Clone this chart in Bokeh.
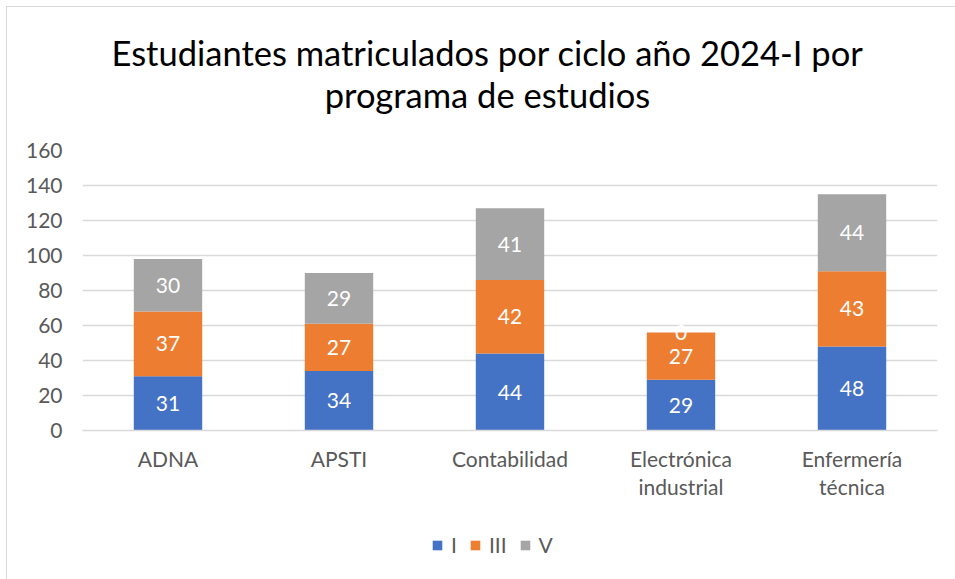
from bokeh.plotting import figure
from bokeh.layouts import column
from bokeh.models import (ColumnDataSource, FactorRange, Range1d, LabelSet, Label,
                          Legend, LegendItem, SingleIntervalTicker)
from bokeh.core.properties import value
from bokeh.embed import file_html
from bokeh.resources import INLINE

categories = ["ADNA", "APSTI", "Contabilidad", "Electrónica\nindustrial", "Enfermería\ntécnica"]
series_names = ["I", "III", "V"]
ciclo_I = [31, 34, 44, 29, 48]
ciclo_III = [37, 27, 42, 27, 43]
ciclo_V = [30, 29, 41, 0, 44]
colors = ["#4472C4", "#ED7D31", "#A5A5A5"]
title_lines = ["Estudiantes matriculados por ciclo año 2024-I por", "programa de estudios"]

FONT = "Lato"
TXT = "#595959"
W = 949


def bare(fig):
    fig.axis.visible = False
    fig.grid.visible = False
    fig.outline_line_color = None
    return fig


src = ColumnDataSource({"cat": categories, "I": ciclo_I, "III": ciclo_III, "V": ciclo_V})

# ---- title strip (frame aligned with the chart frame: starts 75px from the left) ----
t = bare(figure(width=W, height=131, x_range=Range1d(0, 1), y_range=Range1d(0, 1),
                output_backend="svg", toolbar_location=None,
                min_border_left=75, min_border_right=19, min_border_top=0, min_border_bottom=0))
for i, line in enumerate(title_lines):
    t.add_layout(Label(x=405, y=86 - 42 * i, x_units="screen", y_units="screen", text=line,
                       text_align="center", text_baseline="middle", text_font=FONT,
                       text_font_size="34.5px", text_color="black"))

# ---- main chart ----
p = figure(x_range=FactorRange(*categories), y_range=Range1d(0, 160),
           width=W, height=370, output_backend="svg", toolbar_location=None,
           min_border_left=75, min_border_right=19, min_border_top=12, min_border_bottom=78)
p.outline_line_color = None

p.vbar_stack(series_names, x="cat", width=0.4, color=colors, source=src, line_color=None)

bottoms = [0] * len(categories)
for name, vals in zip(series_names, [ciclo_I, ciclo_III, ciclo_V]):
    mids = [b + v / 2 for b, v in zip(bottoms, vals)]
    bottoms = [b + v for b, v in zip(bottoms, vals)]
    ls_src = ColumnDataSource({"cat": categories, "y": mids, "t": [str(v) for v in vals]})
    p.add_layout(LabelSet(x="cat", y="y", text="t", source=ls_src, text_align="center",
                          text_baseline="middle", text_color="white", text_font=value(FONT),
                          text_font_size="21px"))

p.yaxis.ticker = SingleIntervalTicker(interval=20)
p.yaxis.axis_line_color = None
p.yaxis.major_tick_line_color = None
p.yaxis.minor_tick_line_color = None
p.yaxis.major_label_standoff = 14
p.yaxis.major_label_text_font = FONT
p.yaxis.major_label_text_font_size = "21px"
p.yaxis.major_label_text_color = TXT

p.xaxis.axis_line_color = "#d9d9d9"
p.xaxis.axis_line_width = 1.5
p.xaxis.major_tick_line_color = None
p.xaxis.minor_tick_line_color = None
p.xaxis.major_label_standoff = 9
p.xaxis.major_label_text_font = FONT
p.xaxis.major_label_text_font_size = "21px"
p.xaxis.major_label_text_color = TXT
p.xaxis.major_label_text_line_height = 1.15

p.xgrid.grid_line_color = None
p.ygrid.grid_line_color = "#d9d9d9"
p.ygrid.grid_line_width = 1.5

# ---- legend strip: same stacked series, kept far outside its visible range ----
lg = bare(figure(width=W, height=71, x_range=FactorRange(*categories), y_range=Range1d(5000, 5001),
                 output_backend="svg", toolbar_location=None,
                 min_border_left=75, min_border_right=19, min_border_top=3, min_border_bottom=0))
swatches = lg.vbar_stack(series_names, x="cat", width=0.4, color=colors, source=src, line_color=None)
legend = Legend(items=[LegendItem(label=n, renderers=[r]) for n, r in zip(series_names, swatches)],
                orientation="horizontal", location=(349, 22), label_text_font=FONT,
                label_text_font_size="21px", label_text_color=TXT, glyph_width=12, glyph_height=12,
                border_line_color=None, background_fill_alpha=0, spacing=12, label_standoff=8,
                label_width=5, padding=0, margin=0)
lg.add_layout(legend, "center")

layout = column(t, p, lg, spacing=0)
layout.styles = {"margin": "7px 0 0 7px", "outline": "1px solid #d9d9d9"}

open("out.html", "w").write(file_html(layout, INLINE))
